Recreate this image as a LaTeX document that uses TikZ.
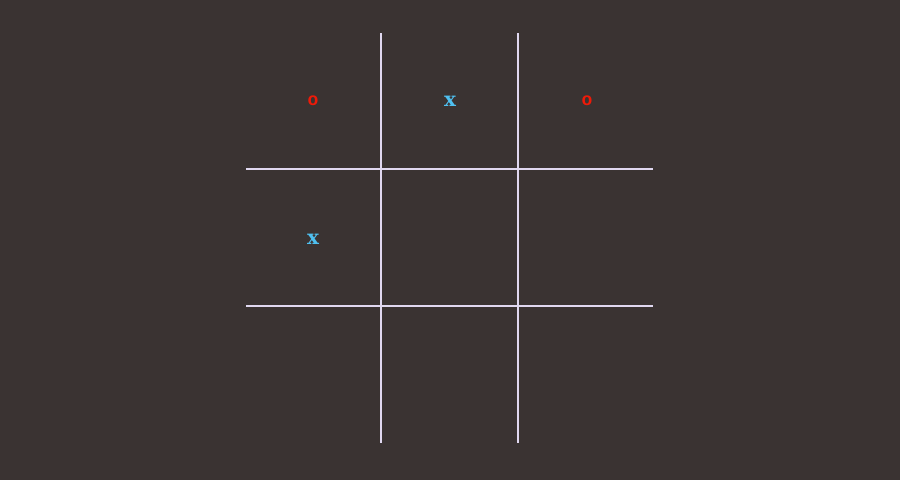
\documentclass[tikz,border=0pt]{standalone}
\usepackage{fontspec}
\setmainfont{DejaVu Serif}
\newfontfamily\omarkfont{Liberation Mono}
\definecolor{bg}{HTML}{3A3332}
\definecolor{gridc}{HTML}{E0D8F0}
\definecolor{ored}{HTML}{EE1A08}
\definecolor{xblue}{HTML}{4FC0F0}
\begin{document}
\begin{tikzpicture}[x=1pt,y=-1pt,
  gridline/.style={gridc,line width=1.4pt},
  omark/.style={ored,font=\omarkfont\fontsize{18}{18}\selectfont\bfseries,inner sep=0pt},
  xmark/.style={xblue,font=\fontsize{20}{20}\selectfont\bfseries,inner sep=0pt}]
\fill[bg] (0,0) rectangle (900,480);
\useasboundingbox (0,0) rectangle (900,480);
\coordinate (v1t) at (381,33); \coordinate (v1b) at (381,443);
\coordinate (v2t) at (518,33); \coordinate (v2b) at (518,443);
\coordinate (h1l) at (246,169); \coordinate (h1r) at (653,169);
\coordinate (h2l) at (246,306); \coordinate (h2r) at (653,306);
\draw[gridline] (v1t) -- (v1b);
\draw[gridline] (v2t) -- (v2b);
\draw[gridline] (h1l) -- (h1r);
\draw[gridline] (h2l) -- (h2r);
\node[omark] (c11) at (313,101) {o};
\node[xmark] (c12) at (450,101) {x};
\node[omark] (c13) at (587,101) {o};
\node[xmark] (c21) at (313,239) {x};
\end{tikzpicture}
\end{document}
